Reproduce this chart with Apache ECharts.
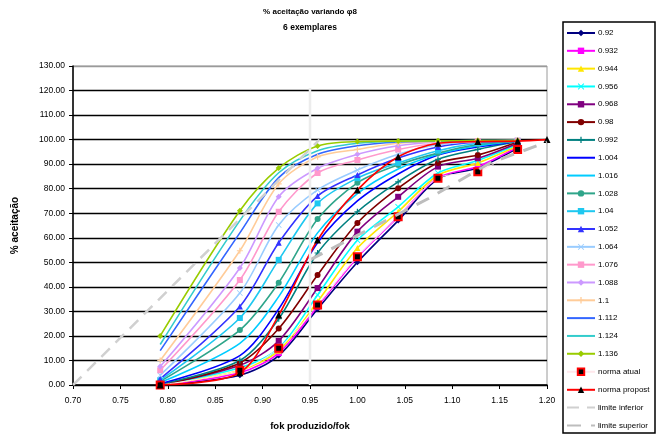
<!DOCTYPE html>
<html><head><meta charset="utf-8">
<script src="https://cdn.jsdelivr.net/npm/echarts@6/dist/echarts.min.js"></script>
<style>html,body{margin:0;padding:0;background:#fff}#c{width:660px;height:437px}</style>
</head><body><div id="c"></div>
<script>
// ---- data ----
const xPoints = [0.792, 0.876, 0.917, 0.958, 1.000, 1.043, 1.085, 1.127, 1.169];
const xTicks = [0.70, 0.75, 0.80, 0.85, 0.90, 0.95, 1.00, 1.05, 1.10, 1.15, 1.20];
const yTicks = [0, 10, 20, 30, 40, 50, 60, 70, 80, 90, 100, 110, 120, 130];
const phiNames = ['0.92','0.932','0.944','0.956','0.968','0.98','0.992','1.004','1.016','1.028','1.04','1.052','1.064','1.076','1.088','1.1','1.112','1.124','1.136'];
const v0920 = [0, 4, 12, 31, 50, 67, 84, 88.5, 96.5];
const v0932 = [0, 5, 13, 32, 52, 68.5, 84.5, 89, 97];
const v0944 = [0, 6, 14, 34, 55.8, 70.6, 85.5, 90.5, 97.4];
const v0956 = [0, 7, 15, 36.7, 59, 72.6, 86.4, 91.5, 98];
const v0968 = [0, 8, 18, 39.5, 62.5, 76.7, 89, 92.4, 98.5];
const v0980 = [0, 9, 23, 44.8, 66, 80.2, 90.5, 93.7, 99];
const v0992 = [0.3, 10, 27, 53.8, 70.6, 82.8, 92, 96, 99.2];
const v1004 = [0.5, 12, 31, 58, 75, 86, 93.7, 97, 99.3];
const v1016 = [1, 17, 36, 62, 78, 88, 94, 97.5, 99.4];
const v1028 = [1.5, 22.4, 41.7, 67.6, 82.4, 89.7, 94.5, 98, 99.5];
const v1040 = [2, 27.3, 51, 74, 84.3, 90.5, 95.5, 98.5, 99.5];
const v1052 = [2.5, 32, 58, 77, 85.6, 92.5, 97, 99, 99.6];
const v1064 = [4, 37.5, 65.2, 79.5, 87.6, 94, 98, 99.2, 99.6];
const v1076 = [6, 42.8, 70.6, 86.4, 91.7, 96, 98.5, 99.4, 99.6];
const v1088 = [7.5, 47.7, 76.7, 88.3, 94, 97.5, 99, 99.5, 99.6];
const v1100 = [10, 54.7, 82, 93, 96, 98.5, 99.3, 99.5, 99.6];
const v1112 = [14, 62, 84.5, 94, 97.5, 99, 99.4, 99.6, 99.6];
const v1124 = [16.5, 67, 86.5, 95.5, 98.5, 99.3, 99.5, 99.6, 99.6];
const v1136 = [20, 71, 88.4, 97.4, 99.2, 99.4, 99.5, 99.6, 99.6];
const phiValues = [v0920,v0932,v0944,v0956,v0968,v0980,v0992,v1004,v1016,v1028,v1040,v1052,v1064,v1076,v1088,v1100,v1112,v1124,v1136];
const normaAtual = [0, 6, 15, 32.6, 52.3, 68.6, 84.3, 86.9, 96];
const normaPropostaX = [0.792, 0.876, 0.917, 0.958, 1.000, 1.043, 1.085, 1.127, 1.169, 1.20];
const normaProposta = [0, 5, 28.5, 59.1, 79.5, 93, 98.5, 99.2, 99.4, 100];
const limInfX = [0.70, 0.96];
const limInfY = [0, 100];
const limSupX = [0.95, 1.075, 1.14, 1.20];
const limSupY = [51, 76, 90.5, 99];
const vertX = [0.95, 0.95];
const vertY = [0, 121];

// ---- styles ----
const XS = 'path://M0,1L1,0L5,4L9,0L10,1L6,5L10,9L9,10L5,6L1,10L0,9L4,5Z';
const PLUS = 'path://M4,0H6V4H10V6H6V10H4V6H0V4H4Z';
const styles = [
  ['#000080','diamond'],['#FF00FF','rect'],['#FFE600','triangle'],['#00FFFF',XS],
  ['#800080','rect'],['#800000','circle'],['#008080',PLUS],['#0000FF','none'],
  ['#00CCFF','none'],['#2FA58A','circle'],['#1EC8F0','rect'],['#3333FF','triangle'],
  ['#99CCFF',XS],['#FF99CC','rect'],['#CC99FF','diamond'],['#FFCC99',PLUS],
  ['#3366FF','none'],['#33CCCC','none'],['#99CC00','diamond']
];
const FONT = 'Liberation Sans, Arial, sans-serif';
const zip = (xs, ys) => xs.map((x, i) => [x, ys[i]]);

const series = phiNames.map((n, k) => ({
  name: n, type: 'line', smooth: 0.3,
  data: zip(xPoints, phiValues[k]),
  symbol: styles[k][1] === 'none' ? 'circle' : styles[k][1],
  symbolSize: 6,
  showSymbol: styles[k][1] !== 'none',
  lineStyle: { color: styles[k][0], width: 1.6 },
  itemStyle: { color: styles[k][0] },
  z: 2
}));
series.push({
  name: 'norma atual', type: 'line', smooth: 0.3, data: zip(xPoints, normaAtual),
  symbol: 'rect', symbolSize: 7,
  lineStyle: { color: '#ffe8ec', width: 1 },
  itemStyle: { color: '#000', borderColor: '#FF0000', borderWidth: 2 }, z: 3
});
series.push({
  name: 'norma proposta', type: 'line', smooth: 0.3,
  data: zip(normaPropostaX, normaProposta),
  symbol: 'triangle', symbolSize: 7,
  lineStyle: { color: '#FF0000', width: 1.6 },
  itemStyle: { color: '#000' }, z: 3
});
series.push({
  name: 'limite inferior', type: 'line', data: zip(limInfX, limInfY), symbol: 'none',
  lineStyle: { color: '#d0d0d0', width: 2.5, type: [12, 8] }, itemStyle: { color: '#eeeeee' }, z: 4
});
series.push({
  name: 'limite superior', type: 'line', data: zip(limSupX, limSupY), symbol: 'none',
  lineStyle: { color: '#bdbdbd', width: 3, type: [14, 10] }, itemStyle: { color: '#c4c4c4' }, z: 4
});
series.push({
  name: '_v', type: 'line', data: zip(vertX, vertY), symbol: 'none',
  lineStyle: { color: '#ececec', width: 2.5 }, z: 5, silent: true
});

const noMarker = new Set(phiNames.filter((n, k) => styles[k][1] === 'none').concat(['limite inferior', 'limite superior']));
const legendData = phiNames.concat(['norma atual', 'norma proposta', 'limite inferior', 'limite superior'])
  .map(n => noMarker.has(n) ? { name: n, itemStyle: { opacity: 0 } } : { name: n });
const splitColors = yTicks.map((t, i) => i === yTicks.length - 1 ? '#9a9a9a' : '#000');

const chart = echarts.init(document.getElementById('c'), null, { renderer: 'canvas' });
chart.setOption({
  animation: false,
  backgroundColor: '#fff',
  textStyle: { fontFamily: FONT },
  graphic: [
    { type: 'text', style: { text: '% aceitação variando φ8', x: 310, y: 12, textAlign: 'center', textVerticalAlign: 'middle', font: 'bold 8px ' + FONT, fill: '#000' } },
    { type: 'text', style: { text: '6 exemplares', x: 310, y: 28, textAlign: 'center', textVerticalAlign: 'middle', font: 'bold 8.5px ' + FONT, fill: '#000' } },
    { type: 'rect', shape: { x: 563, y: 22, width: 92, height: 411 }, style: { fill: '#fff', stroke: '#000', lineWidth: 1.5 }, z: 0 }
  ],
  legend: {
    data: legendData, orient: 'vertical', left: 566, top: 29, padding: 0,
    itemWidth: 28, itemHeight: 8, itemGap: 9.82, z: 10,
    textStyle: { fontSize: 8, color: '#000', fontFamily: FONT, padding: [0,0,0,-2], width: 57, overflow: 'truncate', ellipsis: '' }
  },
  grid: { left: 73, right: 113, top: 66, bottom: 52, show: true, borderColor: '#9a9a9a', borderWidth: 1 },
  xAxis: {
    type: 'value', min: 0.70, max: 1.20, interval: 0.05,
    name: 'fok produzido/fok', nameLocation: 'middle', nameGap: 36,
    nameTextStyle: { fontSize: 9.5, fontWeight: 'bold', color: '#000', fontFamily: FONT },
    axisLine: { show: true, lineStyle: { color: '#000', width: 1.5 } },
    axisTick: { show: true, length: 4, lineStyle: { color: '#000' } },
    axisLabel: { fontSize: 8.5, color: '#000', margin: 11, formatter: v => (+v).toFixed(2) },
    splitLine: { show: false }
  },
  yAxis: {
    type: 'value', min: 0, max: 130, interval: 10,
    name: '% aceitação', nameLocation: 'middle', nameGap: 53, nameRotate: 90,
    nameTextStyle: { fontSize: 10, fontWeight: 'bold', color: '#000', fontFamily: FONT },
    axisLine: { show: true, lineStyle: { color: '#000', width: 1.5 } },
    axisTick: { show: true, length: 4, lineStyle: { color: '#000' } },
    axisLabel: { fontSize: 8.5, color: '#000', margin: 8, formatter: v => (+v).toFixed(2) },
    splitLine: { show: true, lineStyle: { color: splitColors, width: 1.4 } }
  },
  series: series
});
</script></body></html>
